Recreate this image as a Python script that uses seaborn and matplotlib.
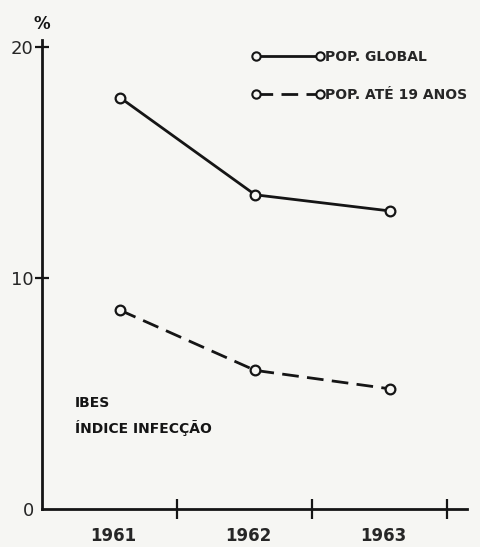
import pandas as pd
import numpy as np
import matplotlib
matplotlib.use('Agg')
import matplotlib.pyplot as plt
from matplotlib.lines import Line2D
import seaborn as sns

sns.set_style("white")
plt.rcParams['font.family'] = ['DejaVu Sans']

# data
years = ['1961', '1962', '1963']
pop_global = [17.8, 13.6, 12.9]
pop_ate_19 = [8.6, 6.0, 5.2]
series_names = ['POP. GLOBAL', 'POP. ATÉ 19 ANOS']

# each year is an interval on the x axis, points sit a bit right of centre
idx = np.arange(len(years))
df = pd.DataFrame({
    'pos': np.concatenate([idx + 0.58, idx + 0.58]),
    'val': pop_global + pop_ate_19,
    'serie': [series_names[0]] * 3 + [series_names[1]] * 3,
})

bg = '#f6f6f3'
ink = '#151515'

fig = plt.figure(figsize=(4.81, 5.47), dpi=100, facecolor=bg)
ax = fig.add_axes([42 / 481, 38 / 547, 425 / 481, 469 / 547])
ax.set_facecolor(bg)

sns.lineplot(data=df, x='pos', y='val', style='serie',
             dashes={series_names[0]: '', series_names[1]: (6, 3)},
             markers={series_names[0]: 'o', series_names[1]: 'o'},
             color=ink, linewidth=2, markersize=7,
             markerfacecolor=bg, markeredgecolor=ink, markeredgewidth=1.6,
             legend=False, ax=ax)

ax.set_xlim(0, 3.15)
ax.set_ylim(0, 20.3)
sns.despine(ax=ax)
for s in ['left', 'bottom']:
    ax.spines[s].set_linewidth(2)
    ax.spines[s].set_color(ink)

ax.set_yticks([0, 10, 20])
ax.set_yticklabels(['0', '10', '20'], fontsize=13)
ax.tick_params(axis='y', left=True, direction='inout', length=10, width=1.6, color=ink, pad=1)
ax.yaxis.get_major_ticks()[0].tick1line.set_visible(False)

ax.set_xticks(idx + 0.53)
ax.set_xticklabels(years, fontsize=12, fontweight='bold')
ax.tick_params(axis='x', which='major', bottom=False, length=0, pad=13)
ax.set_xticks([1, 2, 3], minor=True)
ax.tick_params(axis='x', which='minor', bottom=True, direction='inout', length=14, width=1.6, color=ink)
ax.set_xlabel('')
ax.set_ylabel('')

ax.text(0, 20.6, '%', ha='center', va='bottom', fontsize=12, fontweight='bold', color=ink)

handles = [
    Line2D([], [], color=ink, lw=2, marker='o', ms=6, mfc=bg, mec=ink, mew=1.5),
    Line2D([], [], color=ink, lw=2, ls=(0, (6, 3)), marker='o', ms=6, mfc=bg, mec=ink, mew=1.5),
]
ax.legend(handles, series_names, loc='upper left', bbox_to_anchor=(0.465, 1.005),
          frameon=False, numpoints=2, handlelength=5.2, handletextpad=0.05,
          labelspacing=1.7, prop={'size': 10, 'weight': 'bold'})

ax.text(0.245, 4.6, 'IBES', fontsize=10, fontweight='bold', color=ink, va='center')
ax.text(0.245, 3.5, 'ÍNDICE INFECÇÃO', fontsize=10, fontweight='bold', color=ink, va='center')

fig.savefig('out.png', dpi=100, facecolor=bg)
